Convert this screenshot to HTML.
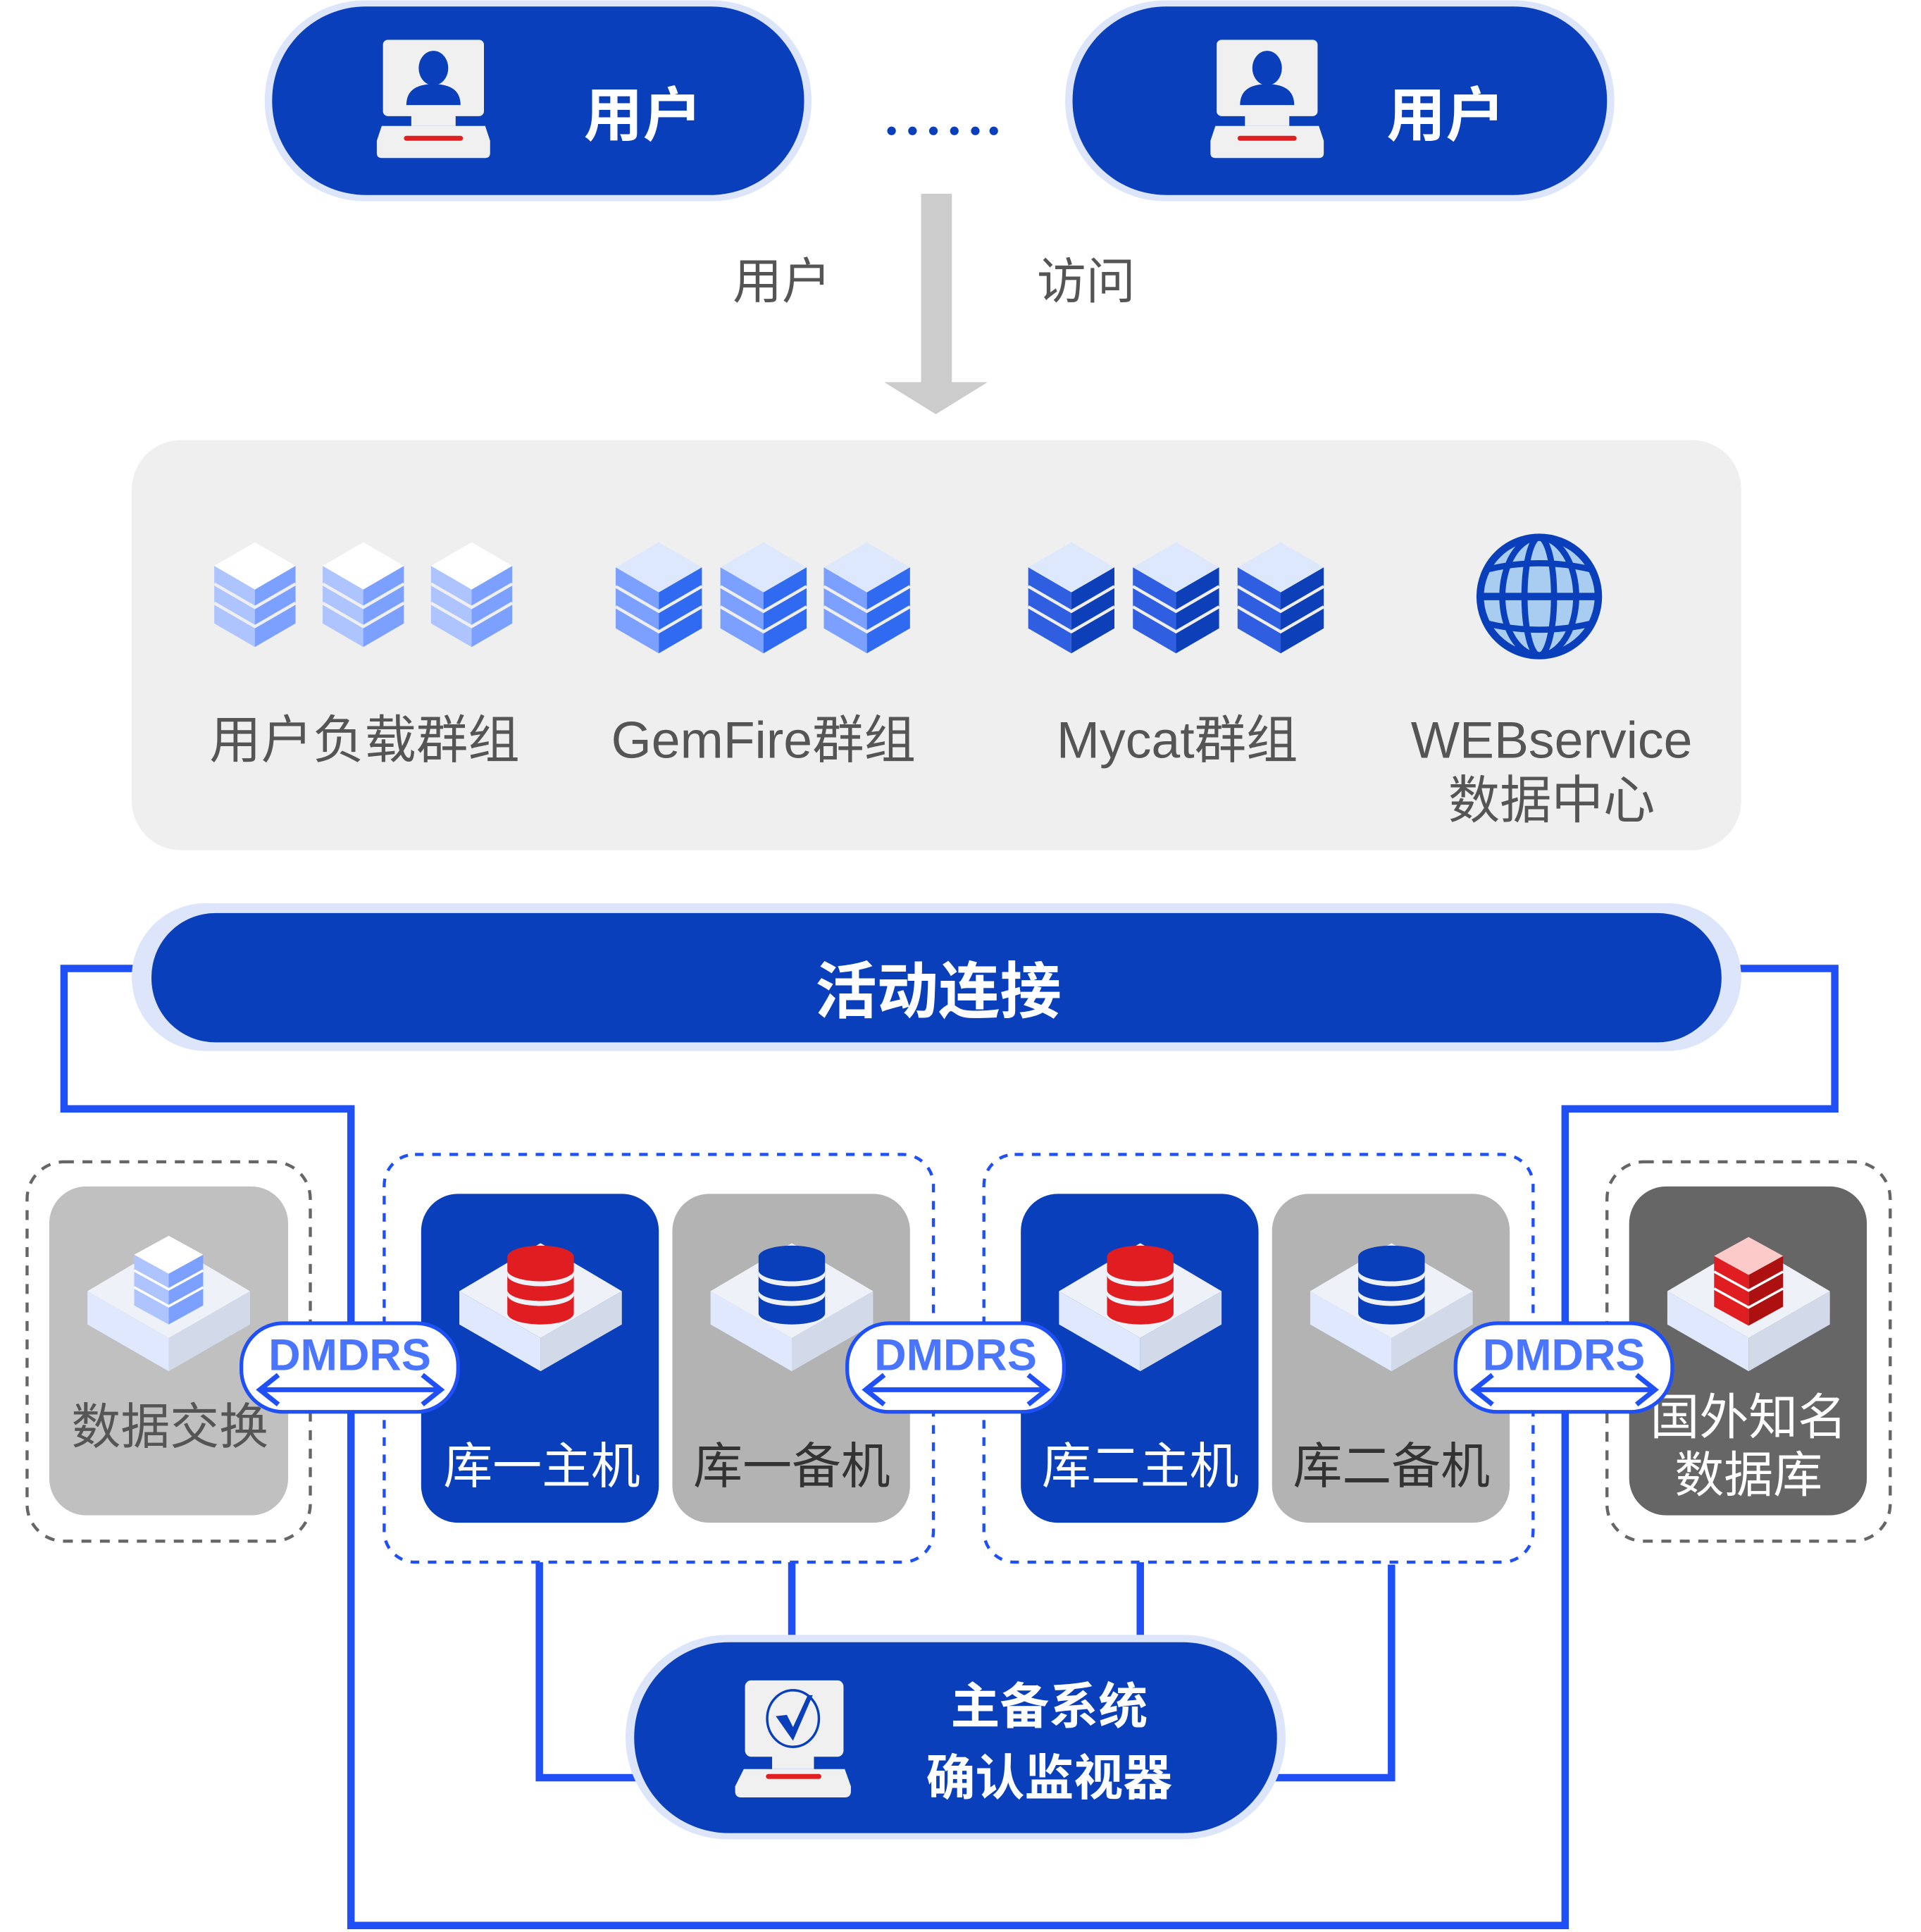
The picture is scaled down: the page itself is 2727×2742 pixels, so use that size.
<!DOCTYPE html>
<html><head><meta charset="utf-8">
<style>
html,body{margin:0;padding:0;background:#fff;}
svg{display:block;}
text{font-family:"Liberation Sans","Noto Sans CJK SC",sans-serif;}
</style></head>
<body>
<svg id="s" width="2727" height="2742" viewBox="0 0 1560 1568" xmlns="http://www.w3.org/2000/svg">
<!-- user pills -->
<rect x="215" y="0" width="444" height="163" rx="81" fill="#dde5fb"/>
<rect x="221" y="5" width="432" height="153" rx="76" fill="#0a3fbb"/>
<rect x="865" y="0" width="446" height="163" rx="81" fill="#dde5fb"/>
<rect x="871" y="5" width="434" height="153" rx="76" fill="#0a3fbb"/>
<text x="522" y="110" font-size="48" font-weight="bold" fill="#fff" text-anchor="middle">用户</text>
<text x="1174" y="110" font-size="48" font-weight="bold" fill="#fff" text-anchor="middle">用户</text>
<g fill="#0a3fbb">
<circle cx="724" cy="106" r="3.5"/><circle cx="741" cy="106" r="3.5"/><circle cx="758" cy="106" r="3.5"/><circle cx="775" cy="106" r="3.5"/><circle cx="792" cy="106" r="3.5"/><circle cx="807" cy="106" r="3.5"/>
</g>
<!-- arrow -->
<rect x="748" y="157" width="25" height="155" fill="#cccccc"/>
<polygon points="718,310 802,310 760,336" fill="#cccccc"/>
<text x="635" y="242" font-size="40" fill="#555" text-anchor="middle">用户</text>
<text x="882" y="242" font-size="40" fill="#555" text-anchor="middle">访问</text>
<!-- panel -->
<rect x="107" y="357" width="1307" height="333" rx="40" fill="#efefef"/>
<g font-size="42" fill="#555" text-anchor="middle">
<text x="296" y="615">用户负载群组</text>
<text x="620" y="615">GemFire群组</text>
<text x="956" y="615">Mycat群组</text>
<text x="1260" y="615">WEBservice</text>
<text x="1260" y="664">数据中心</text>
</g>
<!-- globe -->
<g>
<circle cx="1250" cy="484" r="48" fill="#a9cdf0" stroke="#0a3fbb" stroke-width="6"/>
<ellipse cx="1250" cy="484" rx="30" ry="48" fill="none" stroke="#0a3fbb" stroke-width="5"/>
<ellipse cx="1250" cy="484" rx="12" ry="48" fill="none" stroke="#0a3fbb" stroke-width="5"/>
<line x1="1202" y1="484" x2="1298" y2="484" stroke="#0a3fbb" stroke-width="6"/>
<path d="M1208,462 Q1250,452 1292,462 M1208,506 Q1250,516 1292,506" fill="none" stroke="#0a3fbb" stroke-width="5"/>
</g>
<!-- blue connector lines -->
<g fill="none" stroke="#1f50f5" stroke-width="6">
<polyline points="110,786 52,786 52,900 285,900 285,1563 1271,1563 1271,900 1490,900 1490,786 1410,786"/>
<polyline points="438,1268 438,1443 525,1443"/>
<line x1="643" y1="1268" x2="643" y2="1334"/>
<line x1="926" y1="1268" x2="926" y2="1334"/>
<polyline points="1130,1270 1130,1443 1028,1443"/>
</g>
<!-- activity pill -->
<rect x="107" y="733" width="1307" height="120" rx="60" fill="#dde5fb"/>
<rect x="123" y="741" width="1275" height="105" rx="52" fill="#0a3fbb"/>
<text x="762" y="822" font-size="50" font-weight="bold" fill="#fff" text-anchor="middle">活动连接</text>
<!-- dashed boxes -->
<rect x="22" y="943" width="230" height="308" rx="30" fill="none" stroke="#666" stroke-width="2.5" stroke-dasharray="8,7"/>
<rect x="1305" y="943" width="230" height="308" rx="30" fill="none" stroke="#666" stroke-width="2.5" stroke-dasharray="8,7"/>
<rect x="312" y="937" width="446" height="331" rx="25" fill="#fff" stroke="#1f50f5" stroke-width="2.5" stroke-dasharray="7,7"/>
<rect x="799" y="937" width="446" height="331" rx="25" fill="#fff" stroke="#1f50f5" stroke-width="2.5" stroke-dasharray="7,7"/>
<rect x="40" y="963" width="194" height="267" rx="30" fill="#c0c0c0"/>
<rect x="1323" y="963" width="193" height="267" rx="30" fill="#666666"/>
<rect x="342" y="969" width="193" height="267" rx="30" fill="#0a3fbb"/>
<rect x="546" y="969" width="193" height="267" rx="30" fill="#b3b3b3"/>
<rect x="829" y="969" width="193" height="267" rx="30" fill="#0a3fbb"/>
<rect x="1033" y="969" width="193" height="267" rx="30" fill="#b3b3b3"/>
<g id="icons"></g>
<g font-size="40" text-anchor="middle">
<text x="138" y="1172" fill="#555">数据交换</text>
<text x="440" y="1204" fill="#fff">库一主机</text>
<text x="643" y="1204" fill="#333">库一备机</text>
<text x="926" y="1204" fill="#fff">库二主机</text>
<text x="1130" y="1204" fill="#333">库二备机</text>
<text x="1420" y="1164" fill="#fff">国外知名</text>
<text x="1420" y="1211" fill="#fff">数据库</text>
</g>
<!-- DMDRS badges -->
<g id="badges"></g>
<!-- monitor pill -->
<rect x="508" y="1327" width="536" height="166" rx="83" fill="#dde5fb"/>
<rect x="515" y="1333" width="522" height="155" rx="77" fill="#0a3fbb"/>
<g>
<rect x="605" y="1364" width="80" height="62" rx="5" fill="#f0f0f0"/>
<rect x="627" y="1424" width="34" height="12" fill="#f0f0f0"/>
<path d="M604,1436 H686 L691,1450 V1454 Q691,1459 686,1459 H602 Q597,1459 597,1454 V1450 Z" fill="#f0f0f0"/>
<rect x="622" y="1440" width="45" height="4" rx="2" fill="#e02020"/>
<ellipse cx="644" cy="1395" rx="21" ry="23" fill="none" stroke="#0a3fbb" stroke-width="2"/>
<path d="M630,1393 L639,1392 L644,1402 L656,1376 L660,1376 L644,1413 Z" fill="#0a3fbb"/>
</g>
<text x="852" y="1399" font-size="40" font-weight="bold" fill="#fff" text-anchor="middle">主备系统</text>
<text x="852" y="1457" font-size="40" font-weight="bold" fill="#fff" text-anchor="middle">确认监视器</text>
</svg>
<script>
var NS="http://www.w3.org/2000/svg";
function el(p,t,a){var e=document.createElementNS(NS,t);for(var k in a)e.setAttribute(k,a[k]);p.appendChild(e);return e;}
var svg=document.getElementById('s');
var ic=document.getElementById('icons');
// cube stacks
function stack(cx,y0,top,L,R,w){
 var h=w*0.58;var g=el(svg,'g',{});
 var H=85*w/33;
 el(g,'polygon',{points:(cx-w)+','+(y0+h)+' '+cx+','+(y0+2*h)+' '+cx+','+(y0+H)+' '+(cx-w)+','+(y0+H-h),fill:L});
 el(g,'polygon',{points:(cx+w)+','+(y0+h)+' '+cx+','+(y0+2*h)+' '+cx+','+(y0+H)+' '+(cx+w)+','+(y0+H-h),fill:R});
 var step=(H-2*h)/3;
 for(var i=1;i<3;i++){var dy=2*h+step*i-1;
  el(g,'polyline',{points:(cx-w)+','+(y0+dy-h)+' '+cx+','+(y0+dy)+' '+(cx+w)+','+(y0+dy-h),fill:'none',stroke:'#efefef','stroke-width':2.5});}
 el(g,'polygon',{points:cx+','+y0+' '+(cx+w)+','+(y0+h)+' '+cx+','+(y0+2*h)+' '+(cx-w)+','+(y0+h),fill:top});
}
[207,295,383].forEach(function(c){stack(c,440,'#ffffff','#adc4ff','#7ba0ff',33);});
[535,620,704].forEach(function(c){stack(c,440,'#dde8fc','#7ba0ff','#2f6af0',35);});
[870,955,1040].forEach(function(c){stack(c,440,'#dde8fc','#2f5ee0','#0d3fb8',35);});
// platforms
function plat(cx){
 var t=1009;
 el(ic,'polygon',{points:(cx-66)+','+(t+39)+' '+cx+','+(t+77)+' '+cx+','+(t+104)+' '+(cx-66)+','+(t+66),fill:'#dfe8fc'});
 el(ic,'polygon',{points:(cx+66)+','+(t+39)+' '+cx+','+(t+77)+' '+cx+','+(t+104)+' '+(cx+66)+','+(t+66),fill:'#d2daea'});
 el(ic,'polygon',{points:cx+','+t+' '+(cx+66)+','+(t+39)+' '+cx+','+(t+77)+' '+(cx-66)+','+(t+39),fill:'#eef2f8'});
}
function cyl(cx,col){
 var top=1020,bot=1066,r=27,ry=9;
 el(ic,'path',{d:'M'+(cx-r)+','+top+' V'+bot+' A'+r+','+ry+' 0 0 0 '+(cx+r)+','+bot+' V'+top+' Z',fill:col});
 [1035,1051].forEach(function(y){el(ic,'path',{d:'M'+(cx-r)+','+(y-4)+' A'+r+','+ry+' 0 0 0 '+(cx+r)+','+(y-4)+' V'+y+' A'+r+','+ry+' 0 0 1 '+(cx-r)+','+y+' Z',fill:'#eef2f8'});});
 el(ic,'ellipse',{cx:cx,cy:top,rx:r,ry:ry,fill:col});
}
function cube(cx,y0,top,L,R,w){
 var h=w*0.55,H=72;
 el(ic,'polygon',{points:(cx-w)+','+(y0+h)+' '+cx+','+(y0+2*h)+' '+cx+','+(y0+H)+' '+(cx-w)+','+(y0+H-h),fill:L});
 el(ic,'polygon',{points:(cx+w)+','+(y0+h)+' '+cx+','+(y0+2*h)+' '+cx+','+(y0+H)+' '+(cx+w)+','+(y0+H-h),fill:R});
 var step=(H-2*h)/3;
 for(var i=1;i<3;i++){var dy=2*h+step*i-1;
  el(ic,'polyline',{points:(cx-w)+','+(y0+dy-h)+' '+cx+','+(y0+dy)+' '+(cx+w)+','+(y0+dy-h),fill:'none',stroke:'#fff','stroke-width':2});}
 el(ic,'polygon',{points:cx+','+y0+' '+(cx+w)+','+(y0+h)+' '+cx+','+(y0+2*h)+' '+(cx-w)+','+(y0+h),fill:top});
}
plat(137);cube(137,1003,'#ffffff','#adc4ff','#7ba0ff',28);
plat(439);cyl(439,'#e01e22');
plat(643);cyl(643,'#0a3fbb');
plat(926);cyl(926,'#e01e22');
plat(1130);cyl(1130,'#0a3fbb');
plat(1420);cube(1420,1004,'#fdcaca','#e01e22','#ad1010',28);
// badges
var bd=document.getElementById('badges');
[196,688,1182].forEach(function(x){
 el(bd,'rect',{x:x,y:1074,width:176,height:72,rx:34,fill:'#fff',stroke:'#1f50f5','stroke-width':3});
 var t=el(bd,'text',{x:x+88,y:1112,'font-size':36,'font-weight':'bold',fill:'#4a76ff','text-anchor':'middle'});t.textContent='DMDRS';
 el(bd,'line',{x1:x+17,y1:1128,x2:x+160,y2:1128,stroke:'#1f50f5','stroke-width':4});
 el(bd,'polyline',{points:(x+30)+',1116 '+(x+15)+',1128 '+(x+30)+',1140',fill:'none',stroke:'#1f50f5','stroke-width':4});
 el(bd,'polyline',{points:(x+147)+',1116 '+(x+162)+',1128 '+(x+147)+',1140',fill:'none',stroke:'#1f50f5','stroke-width':4});
});
// user monitor icons
[352,1029].forEach(function(cx){
 var g=el(svg,'g',{});
 el(g,'rect',{x:cx-41,y:32,width:82,height:62,rx:4,fill:'#f0f0f0'});
 el(g,'rect',{x:cx-18,y:92,width:36,height:10,fill:'#f0f0f0'});
 el(g,'path',{d:'M'+(cx-42)+',102 H'+(cx+42)+' L'+(cx+46)+',114 V124 Q'+(cx+46)+',128 '+(cx+42)+',128 H'+(cx-42)+' Q'+(cx-46)+',128 '+(cx-46)+',124 V114 Z',fill:'#f0f0f0'});
 el(g,'rect',{x:cx-24,y:110,width:48,height:4,rx:2,fill:'#e02020'});
 el(g,'ellipse',{cx:cx,cy:55,rx:12,ry:14,fill:'#0a3fbb'});
 el(g,'path',{d:'M'+(cx-22)+',85 Q'+(cx-22)+',68 '+cx+',68 Q'+(cx+22)+',68 '+(cx+22)+',85 Z',fill:'#0a3fbb'});
});
</script>
</body></html>
